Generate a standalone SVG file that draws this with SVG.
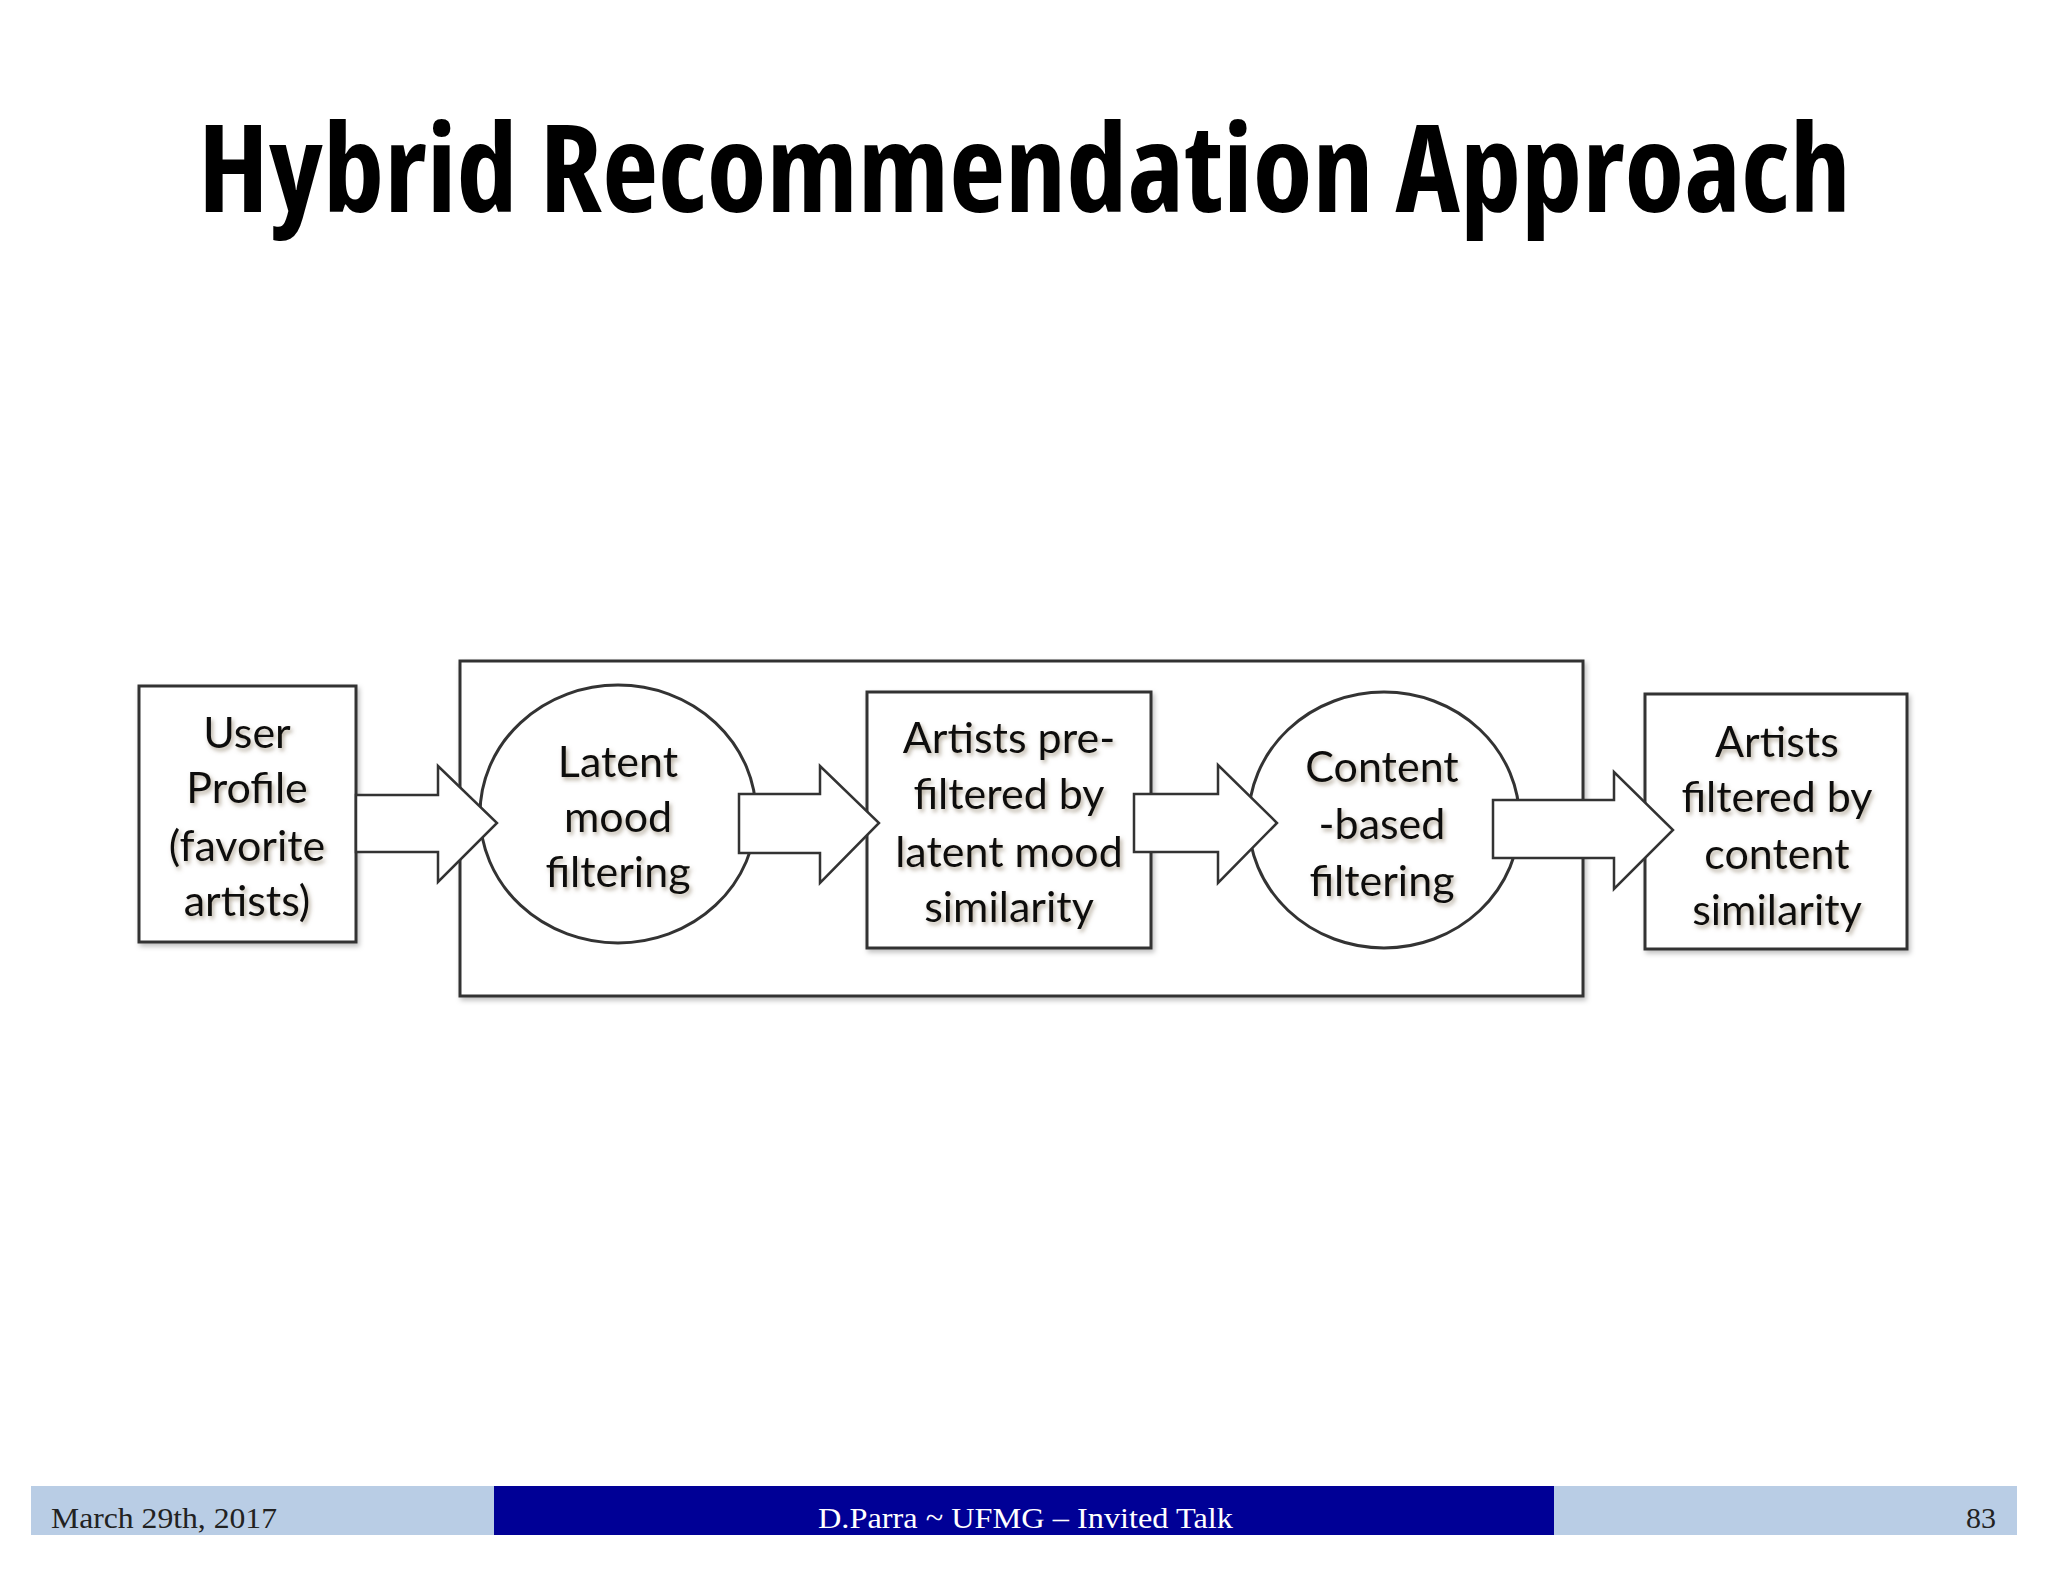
<svg xmlns="http://www.w3.org/2000/svg" width="2048" height="1582" viewBox="0 0 2048 1582">
<defs>
<filter id="ts" x="-10%" y="-30%" width="130%" height="170%">
<feDropShadow dx="2" dy="3" stdDeviation="2" flood-color="#7a6a50" flood-opacity="0.55"/>
</filter>
<filter id="bs" x="-5%" y="-5%" width="110%" height="115%">
<feDropShadow dx="2" dy="3" stdDeviation="2.5" flood-color="#000" flood-opacity="0.25"/>
</filter>
</defs>
<style>
.shape{fill:#fff;stroke:#333;stroke-width:3}
.arrow{fill:#fff;stroke:#333;stroke-width:2.5;stroke-linejoin:miter}
.lbl{font-family:Lato,"Open Sans","Liberation Sans",sans-serif;font-size:43px;fill:#111;text-anchor:middle}
.title{font-family:"Open Sans","Liberation Sans",sans-serif;font-weight:700;font-size:122px;font-stretch:75%;fill:#000}
.foot{font-family:"Liberation Serif",serif;font-size:30px}
</style>
<rect width="2048" height="1582" fill="#fff"/>
<text class="title" x="198" y="212" textLength="1653" lengthAdjust="spacingAndGlyphs">Hybrid Recommendation Approach</text>

<g id="container">
<rect class="shape" x="460" y="661" width="1123" height="335" filter="url(#bs)"/>
</g>

<g id="user-profile">
<rect class="shape" x="139" y="686" width="217" height="256" filter="url(#bs)"/>
<g filter="url(#ts)">
<text class="lbl" x="247" y="748">User</text>
<text class="lbl" x="247" y="803">Profile</text>
<text class="lbl" x="247" y="861">(favorite</text>
<text class="lbl" x="247" y="916">artists)</text>
</g>
</g>

<g id="latent-mood-filtering">
<ellipse class="shape" cx="618" cy="814" rx="138" ry="129" stroke-width="2.5"/>
<g filter="url(#ts)">
<text class="lbl" x="618" y="777">Latent</text>
<text class="lbl" x="618" y="832">mood</text>
<text class="lbl" x="618" y="887">filtering</text>
</g>
</g>

<g id="artists-prefiltered">
<rect class="shape" x="867" y="692" width="284" height="256" filter="url(#bs)"/>
<g filter="url(#ts)">
<text class="lbl" x="1009" y="753">Artists pre-</text>
<text class="lbl" x="1009" y="809">filtered by</text>
<text class="lbl" x="1009" y="867">latent mood</text>
<text class="lbl" x="1009" y="922">similarity</text>
</g>
</g>

<g id="content-based-filtering">
<ellipse class="shape" cx="1384" cy="820" rx="135.5" ry="128" stroke-width="2.5"/>
<g filter="url(#ts)">
<text class="lbl" x="1382" y="782">Content</text>
<text class="lbl" x="1382" y="839">-based</text>
<text class="lbl" x="1382" y="896">filtering</text>
</g>
</g>

<g id="artists-filtered">
<rect class="shape" x="1645" y="694" width="262" height="255" filter="url(#bs)"/>
<g filter="url(#ts)">
<text class="lbl" x="1777" y="757">Artists</text>
<text class="lbl" x="1777" y="812">filtered by</text>
<text class="lbl" x="1777" y="869">content</text>
<text class="lbl" x="1777" y="925">similarity</text>
</g>
</g>

<g id="connectors">
<polygon class="arrow" points="356,795 438,795 438,766 497,823 438,882 438,852 356,852"/>
<polygon class="arrow" points="739,794 820,794 820,766 879,823 820,883 820,853 739,853"/>
<polygon class="arrow" points="1134,794 1218,794 1218,765 1277,823 1218,883 1218,852 1134,852"/>
<polygon class="arrow" points="1493,800 1614,800 1614,772 1673,830 1614,889 1614,858 1493,858"/>
</g>

<g id="footer">
<rect x="31" y="1486" width="463" height="49" fill="#b9cde5"/>
<rect x="494" y="1486" width="1060" height="49" fill="#000096"/>
<rect x="1554" y="1486" width="463" height="49" fill="#b9cde5"/>
<text class="foot" x="51" y="1528" fill="#222" textLength="226" lengthAdjust="spacingAndGlyphs">March 29th, 2017</text>
<text class="foot" x="818" y="1528" fill="#fff" textLength="415" lengthAdjust="spacingAndGlyphs">D.Parra ~ UFMG – Invited Talk</text>
<text class="foot" x="1996" y="1528" fill="#222" text-anchor="end">83</text>
</g>
</svg>
